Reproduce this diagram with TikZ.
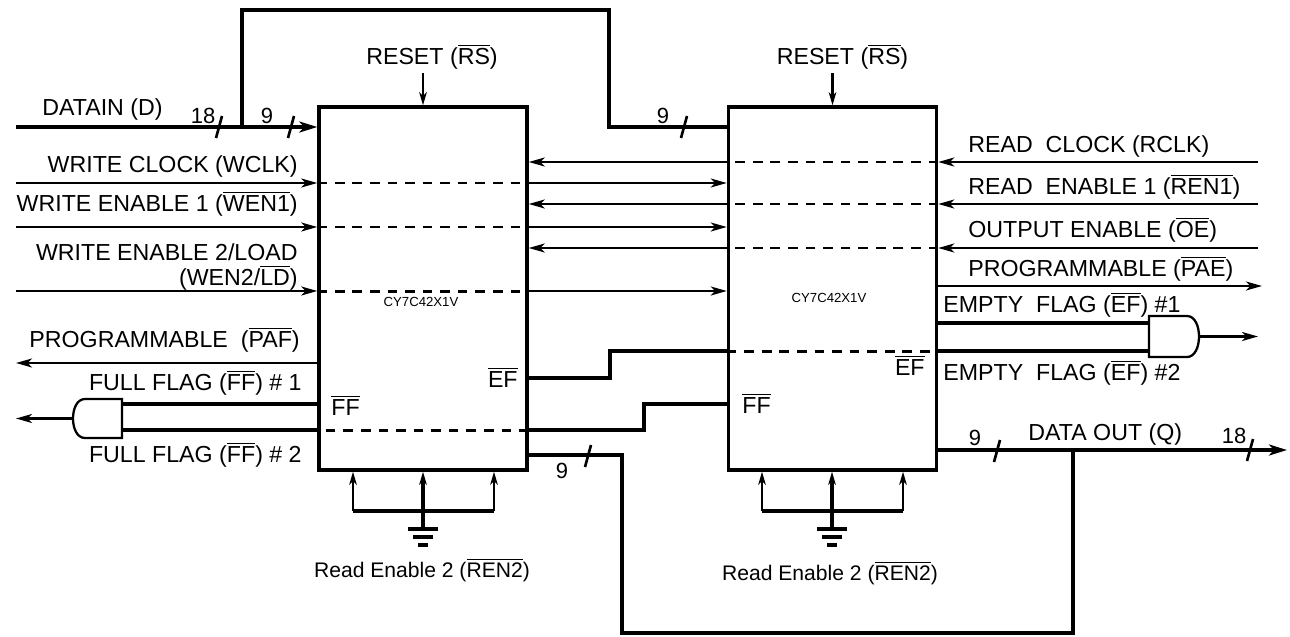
\documentclass[tikz,border=0pt]{standalone}
\usepackage{fontspec}
\setmainfont{Liberation Sans}
\usetikzlibrary{calc,positioning}
\usetikzlibrary{arrows.meta}
\tikzset{>={Stealth[length=3.2mm,width=1.8mm,inset=0.9mm]}}
\newcommand{\lowact}[1]{$\overline{\mbox{#1}}$}

\begin{document}
\begin{tikzpicture}[x=0.02cm,y=-0.02cm]
  \tikzstyle{fifo} = [draw, line width=2pt, minimum width=4.16cm, minimum height=7.26cm, inner sep=0pt]
  \tikzstyle{wire} = [line width=1.3pt]
  \tikzstyle{bus} = [line width=2.2pt]
  \tikzstyle{thru} = [line width=1.7pt, dash pattern=on 5.5pt off 4.5pt]
  \tikzstyle{tick} = [line width=1.5pt]
  \tikzstyle{sig} = [font=\fontsize{13.2}{15}\selectfont, inner sep=0pt]
  \tikzstyle{num} = [font=\fontsize{12.5}{14}\selectfont, inner sep=0pt]
  \tikzstyle{note} = [font=\fontsize{12}{14}\selectfont, inner sep=0pt]
  \tikzstyle{part} = [font=\fontsize{7.5}{9}\selectfont]
  \tikzstyle{small tip} = [-{Stealth[length=2.6mm,width=1.5mm,inset=0.7mm]}]
  \tikzstyle{big tip} = [-{Stealth[length=3.6mm,width=2.2mm,inset=1mm]}]
  \useasboundingbox (0,0) rectangle (1290,636);

  % the two fifos
  \node[fifo] (fifoA) at (423,288.5) {};
  \node[fifo] (fifoB) at (832.5,288.5) {};
  \node[part] (nameA) at (421,302) {CY7C42X1V};
  \node[part] (nameB) at (829,298) {CY7C42X1V};

  % reset
  \node[sig, above=0.72cm of fifoA.north, xshift=0.18cm] (rstA) {RESET (\lowact{RS})};
  \node[sig, above=0.72cm of fifoB.north, xshift=0.2cm] (rstB) {RESET (\lowact{RS})};
  \draw[wire,small tip] ([yshift=-2pt]rstA.south -| fifoA.north) -- (fifoA.north);
  \draw[wire,small tip] ([yshift=-2pt]rstB.south -| fifoB.north) -- (fifoB.north);

  % data in, split in two halves
  \coordinate (din) at (16,127);
  \coordinate (tap) at (242,127);
  \draw[bus,big tip] (din) -- (din -| fifoA.west);
  \draw[bus] (tap) |- (609,10) |- (fifoB.west |- tap);
  \node[sig, anchor=base west] (dinL) at (42,115) {DATAIN (D)};
  \node[num, anchor=base] (n18in) at (203,123) {18};
  \node[num, anchor=base] (n9inA) at (267,123) {9};
  \node[num, anchor=base] (n9inB) at (663,123) {9};
  \draw[tick] (216,138) -- (222,116);
  \draw[tick] (288,138) -- (294,116);
  \draw[tick] (681,138) -- (687,116);

  % write side
  \coordinate (wclk) at (16,183);
  \draw[wire,->] (wclk) -- (wclk -| fifoA.west);
  \draw[thru] (wclk -| fifoA.west) -- (wclk -| fifoA.east);
  \draw[wire,->] (wclk -| fifoA.east) -- (wclk -| fifoB.west);
  \node[sig, anchor=base east] (wclkL) at (298,172) {WRITE CLOCK (WCLK)};

  \coordinate (wen1) at (16,227);
  \draw[wire,->] (wen1) -- (wen1 -| fifoA.west);
  \draw[thru] (wen1 -| fifoA.west) -- (wen1 -| fifoA.east);
  \draw[wire,->] (wen1 -| fifoA.east) -- (wen1 -| fifoB.west);
  \node[sig, anchor=base east] (wen1L) at (298,211) {WRITE ENABLE 1 (\lowact{WEN1})};

  \coordinate (wen2) at (16,291);
  \draw[wire,->] (wen2) -- (wen2 -| fifoA.west);
  \draw[thru] (wen2 -| fifoA.west) -- (wen2 -| fifoA.east);
  \draw[wire,->] (wen2 -| fifoA.east) -- (wen2 -| fifoB.west);
  \node[sig, anchor=base east] (wen2L) at (298,260) {WRITE ENABLE 2/LOAD};
  \node[sig, anchor=base east] (wen2M) at (298,285) {(WEN2/\lowact{LD})};

  % read side
  \coordinate (rclk) at (1258,162);
  \draw[wire,->] (rclk) -- (rclk -| fifoB.east);
  \draw[thru] (rclk -| fifoB.east) -- (rclk -| fifoB.west);
  \draw[wire,->] (rclk -| fifoB.west) -- (rclk -| fifoA.east);
  \node[sig, anchor=base west] (rclkL) at (968,152) {READ~~CLOCK (RCLK)};

  \coordinate (ren1) at (1258,204);
  \draw[wire,->] (ren1) -- (ren1 -| fifoB.east);
  \draw[thru] (ren1 -| fifoB.east) -- (ren1 -| fifoB.west);
  \draw[wire,->] (ren1 -| fifoB.west) -- (ren1 -| fifoA.east);
  \node[sig, anchor=base west] (ren1L) at (968,194) {READ~~ENABLE 1 (\lowact{REN1})};

  \coordinate (oe) at (1258,248);
  \draw[wire,->] (oe) -- (oe -| fifoB.east);
  \draw[thru] (oe -| fifoB.east) -- (oe -| fifoB.west);
  \draw[wire,->] (oe -| fifoB.west) -- (oe -| fifoA.east);
  \node[sig, anchor=base west] (oeL) at (968,237) {OUTPUT ENABLE (\lowact{OE})};

  \coordinate (pae) at (1262,286);
  \draw[wire,->] (fifoB.east |- pae) -- (pae);
  \node[sig, anchor=base west] (paeL) at (968,276) {PROGRAMMABLE (\lowact{PAE})};

  % empty flags
  \coordinate (ef1in) at (1149,323);
  \coordinate (ef2in) at (1149,351);
  \coordinate (efand) at (1199,336.5);
  \coordinate (efq) at (1258,336.5);
  \draw[bus] (fifoA.east |- 0,378) -| (610,351) -- (fifoB.west |- 0,351);
  \draw[thru] (fifoB.west |- 0,351) -- (fifoB.east |- 0,351);
  \draw[bus] (fifoB.east |- 0,351) -- (ef2in);
  \draw[bus] (fifoB.east |- 0,323) -- (ef1in);
  \draw[wire] (1149,316) -- (1187,316) .. controls (1203,316) and (1203,357) .. (1187,357) -- (1149,357) -- cycle;
  \draw[wire,->] (efand) -- (efq);
  \node[sig, anchor=base west] (ef1L) at (943,312) {EMPTY~~FLAG (\lowact{EF}) \#1};
  \node[sig, anchor=base west] (ef2L) at (943,380) {EMPTY~~FLAG (\lowact{EF}) \#2};
  \node[sig, anchor=base east] (efB) at (925,375) {\lowact{EF}};
  \node[sig, anchor=base east] (efA) at (518,387) {\lowact{EF}};

  % full flags
  \coordinate (ff1in) at (122,404);
  \coordinate (ff2in) at (122,430);
  \coordinate (ffand) at (73,418.5);
  \coordinate (ffq) at (16,418.5);
  \draw[bus] (fifoB.west |- 0,404) -| (644,430) -- (fifoA.east |- 0,430);
  \draw[thru] (fifoA.east |- 0,430) -- (fifoA.west |- 0,430);
  \draw[bus] (fifoA.west |- 0,430) -- (ff2in);
  \draw[bus] (fifoA.west |- 0,404) -- (ff1in);
  \draw[wire] (122,399) -- (85,399) .. controls (69,399) and (69,438) .. (85,438) -- (122,438) -- cycle;
  \draw[wire,->] (ffand) -- (ffq);
  \node[sig, anchor=base east] (ff1L) at (302,390) {FULL FLAG (\lowact{FF}) \# 1};
  \node[sig, anchor=base east] (ff2L) at (302,462) {FULL FLAG (\lowact{FF}) \# 2};
  \node[sig, anchor=base west] (ffB) at (742,413) {\lowact{FF}};
  \node[sig, anchor=base west] (ffA) at (331,415) {\lowact{FF}};

  \coordinate (paf) at (16,363);
  \draw[wire,->] (fifoA.west |- paf) -- (paf);
  \node[sig, anchor=base east] (pafL) at (300,347) {PROGRAMMABLE~~(\lowact{PAF})};

  % data out, two halves joined
  \coordinate (qout) at (1287,450);
  \draw[bus] (fifoA.east |- 0,455) -| (622,633) -| (1073,450);
  \draw[bus,big tip] (fifoB.east |- qout) -- (qout);
  \node[sig, anchor=base west] (qL) at (1028,440) {DATA OUT (Q)};
  \node[num, anchor=base] (n9outA) at (562,478) {9};
  \node[num, anchor=base] (n9outB) at (975,445) {9};
  \node[num, anchor=base] (n18out) at (1234,443) {18};
  \draw[tick] (585,467) -- (591,445);
  \draw[tick] (994,462) -- (1000,440);
  \draw[tick] (1247,461) -- (1253,439);

  % read enable 2 tied to ground
  \coordinate (gA1) at (353,511);
  \coordinate (gA2) at (423,511);
  \coordinate (gA3) at (494,511);
  \draw[bus] (gA1) -- (gA3);
  \draw[wire,small tip] (gA1) -- (gA1 |- fifoA.south);
  \draw[bus,small tip] (gA2) -- (gA2 |- fifoA.south);
  \draw[wire,small tip] (gA3) -- (gA3 |- fifoA.south);
  \draw[bus] (gA2) -- ++(0,18) ++(-15,0) -- ++(30,0) ++(-25,8) -- ++(20,0) ++(-15,8) -- ++(10,0);
  \node[note, anchor=base] (renA) at (422,577) {Read Enable 2 (\lowact{REN2})};

  \coordinate (gB1) at (762,511);
  \coordinate (gB2) at (832,511);
  \coordinate (gB3) at (903,511);
  \draw[bus] (gB1) -- (gB3);
  \draw[wire,small tip] (gB1) -- (gB1 |- fifoB.south);
  \draw[bus,small tip] (gB2) -- (gB2 |- fifoB.south);
  \draw[wire,small tip] (gB3) -- (gB3 |- fifoB.south);
  \draw[bus] (gB2) -- ++(0,18) ++(-15,0) -- ++(30,0) ++(-25,8) -- ++(20,0) ++(-15,8) -- ++(10,0);
  \node[note, anchor=base] (renB) at (830,580) {Read Enable 2 (\lowact{REN2})};
\end{tikzpicture}
\end{document}
